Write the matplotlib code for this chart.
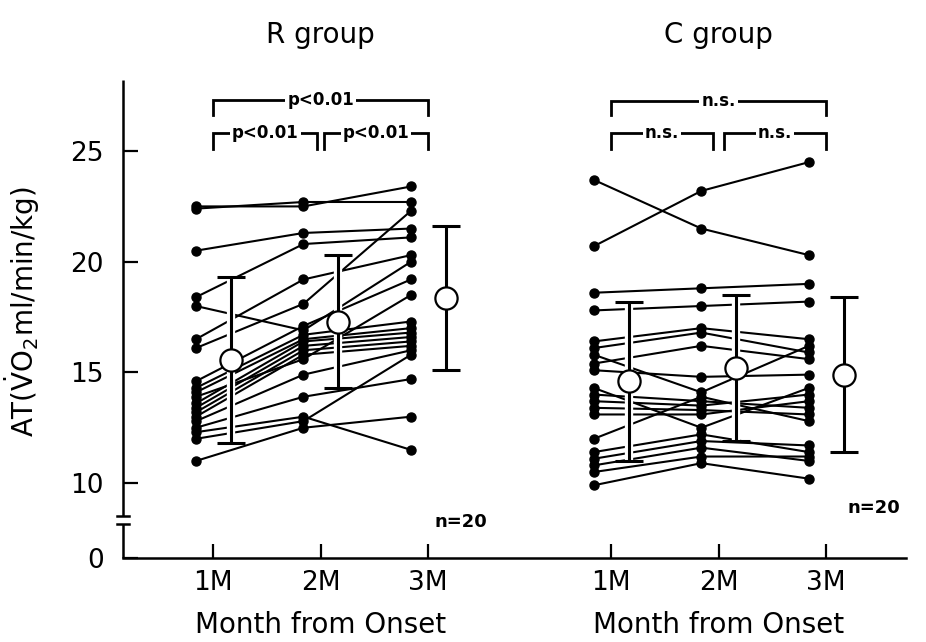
import numpy as np
import matplotlib
matplotlib.use("Agg")
import matplotlib.pyplot as plt
import matplotlib.patheffects as pe

# subject values, R group (1M, 2M, 3M)
r_1m = [22.5, 22.4, 20.5, 18.4, 16.5, 18.0, 16.1, 14.6, 14.3, 14.1,
        13.9, 13.6, 13.4, 13.2, 13.0, 12.8, 12.5, 12.3, 12.0, 11.0]
r_2m = [22.5, 22.7, 21.3, 20.8, 19.2, 16.9, 18.1, 17.1, 16.7, 16.5,
        15.6, 16.4, 16.2, 16.0, 15.8, 14.9, 13.9, 13.0, 12.8, 12.5]
r_3m = [23.4, 22.7, 21.5, 21.1, 20.3, 20.0, 22.3, 19.2, 17.3, 17.0,
        18.5, 16.8, 16.6, 16.4, 16.2, 16.0, 14.7, 11.5, 15.8, 13.0]

# subject values, C group
c_1m = [23.7, 20.7, 18.6, 17.8, 16.4, 16.1, 15.8, 15.4, 15.1, 14.3,
        14.0, 13.7, 13.4, 13.1, 12.0, 11.4, 11.1, 10.8, 10.5, 9.9]
c_2m = [21.5, 23.2, 18.8, 18.0, 17.0, 16.8, 14.1, 16.2, 14.8, 12.5,
        13.7, 13.5, 13.3, 13.1, 13.9, 12.2, 11.9, 11.6, 11.2, 10.9]
c_3m = [20.3, 24.5, 19.0, 18.2, 16.5, 15.9, 16.2, 15.6, 14.9, 14.3,
        13.4, 14.0, 13.1, 13.7, 12.8, 11.4, 11.7, 11.0, 11.2, 10.2]

r_mean = [15.55, 17.3, 18.35]
r_sd = [3.75, 3.0, 3.25]
c_mean = [14.6, 15.2, 14.9]
c_sd = [3.6, 3.3, 3.5]

months = ["1M", "2M", "3M"]
r_x = [1, 2, 3]
c_x = [4.7, 5.7, 6.7]


# broken y axis: 0..8.6 squeezed under the 10..25 range
def fwd(v):
    v = np.asarray(v, dtype=float)
    return np.where(v >= 8.6, v, 6.62 + v * (8.6 - 6.62) / 8.6)


def inv(y):
    y = np.asarray(y, dtype=float)
    return np.where(y >= 8.6, y, (y - 6.62) * 8.6 / (8.6 - 6.62))


fig = plt.figure(figsize=(9.26, 6.42), dpi=100)
ax = fig.add_axes([0.133, 0.131, 0.845, 0.744])
ax.set_yscale("function", functions=(fwd, inv))

halo = [pe.withStroke(linewidth=6, foreground="white")]


def draw_group(xs, v1, v2, v3, means, sds):
    xd = [x - 0.16 for x in xs]
    for a, b, c in zip(v1, v2, v3):
        ax.plot(xd, [a, b, c], "-o", color="k", lw=1.5, ms=6.5, zorder=2)
    xm = [x + 0.165 for x in xs]
    eb = ax.errorbar(xm, means, yerr=sds, fmt="none", ecolor="k",
                     elinewidth=2.2, capsize=10, capthick=2.2, zorder=4)
    for part in eb.lines[2]:
        part.set_path_effects(halo)
    ax.plot(xm, means, "o", ms=16, mfc="white", mec="k", mew=1.6,
            zorder=5, ls="none")


draw_group(r_x, r_1m, r_2m, r_3m, r_mean, r_sd)
draw_group(c_x, c_1m, c_2m, c_3m, c_mean, c_sd)


def bracket(x0, x1, y, drop, label):
    ax.plot([x0, x0, x1, x1], [y - drop, y, y, y - drop], color="k",
            lw=2, solid_joinstyle="miter", zorder=3)
    ax.text((x0 + x1) / 2, y, label, ha="center", va="center", fontsize=12,
            fontweight="bold",
            bbox=dict(facecolor="white", edgecolor="none", pad=1.5), zorder=4)


bracket(r_x[0], r_x[2], 27.3, 0.65, "p<0.01")
bracket(r_x[0], r_x[1] - 0.03, 25.8, 0.7, "p<0.01")
bracket(r_x[1] + 0.03, r_x[2], 25.8, 0.7, "p<0.01")
bracket(c_x[0], c_x[2], 27.25, 0.6, "n.s.")
bracket(c_x[0], c_x[1] - 0.05, 25.8, 0.7, "n.s.")
bracket(c_x[1] + 0.05, c_x[2], 25.8, 0.7, "n.s.")

ax.set_xlim(0.163, 7.44)
ax.set_ylim(0, 28.2)
ax.set_xticks(r_x + c_x)
ax.set_xticklabels(months + months)
ax.set_yticks([0, 10, 15, 20, 25])
ax.set_yticklabels(["0", "10", "15", "20", "25"])
ax.yaxis.set_minor_locator(matplotlib.ticker.NullLocator())
ax.tick_params(axis="x", direction="in", length=10, width=1.6,
               labelsize=19, pad=9)
ax.tick_params(axis="y", direction="in", length=11, width=1.6,
               labelsize=19, pad=14)

for s in ["top", "right", "left"]:
    ax.spines[s].set_visible(False)
ax.spines["bottom"].set_linewidth(1.8)

# left axis line with break marks
ax.plot([0, 0], [0, 0.072], transform=ax.transAxes, color="k", lw=1.8,
        clip_on=False, solid_capstyle="butt")
ax.plot([0, 0], [0.088, 1], transform=ax.transAxes, color="k", lw=1.8,
        clip_on=False, solid_capstyle="butt")
for yb in [0.072, 0.088]:
    ax.plot([-0.008, 0.008], [yb, yb], transform=ax.transAxes, color="k",
            lw=1.8, clip_on=False)

ax.set_ylabel(r"AT($\mathrm{\dot{V}O_2}$ml/min/kg)", fontsize=20)
ax.yaxis.set_label_coords(-0.104, 0.515)

tr = ax.get_xaxis_transform()
ax.text(r_x[1], 1.094, "R group", transform=tr, ha="center", va="center",
        fontsize=20)
ax.text(c_x[1], 1.094, "C group", transform=tr, ha="center", va="center",
        fontsize=20)
ax.text(r_x[1], -0.14, "Month from Onset", transform=tr, ha="center",
        va="center", fontsize=20)
ax.text(c_x[1], -0.14, "Month from Onset", transform=tr, ha="center",
        va="center", fontsize=20)

ax.text(0.431, 0.075, "n=20", transform=ax.transAxes, ha="center",
        va="center", fontsize=13, fontweight="bold")
ax.text(0.96, 0.105, "n=20", transform=ax.transAxes, ha="center",
        va="center", fontsize=13, fontweight="bold")

fig.savefig("out.png", dpi=100)
